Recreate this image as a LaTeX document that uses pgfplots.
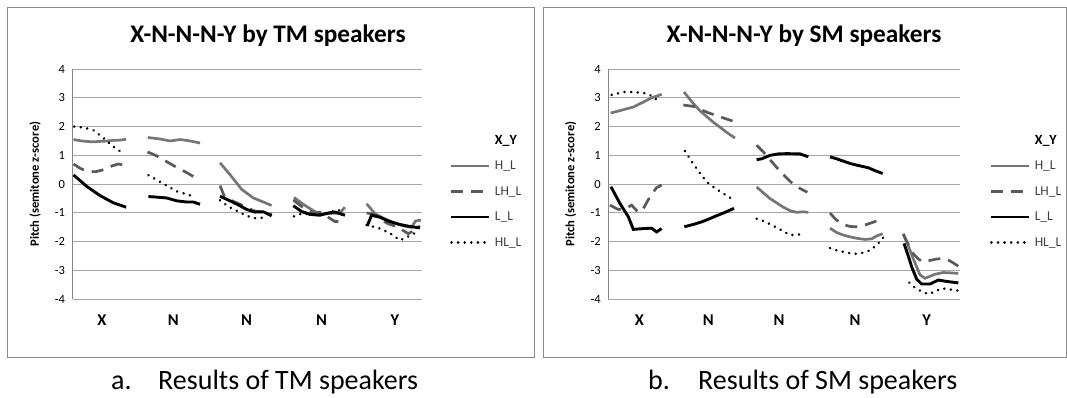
\documentclass[border=0pt]{standalone}
\usepackage{fontspec}
\setmainfont{Carlito}
\usepackage{pgfplots}
\pgfplotsset{compat=1.18}
\definecolor{gridc}{RGB}{166,166,166}
\definecolor{axc}{RGB}{134,134,134}
\definecolor{framec}{RGB}{140,140,140}
\definecolor{hlc}{RGB}{118,118,118}
\definecolor{lhlc}{RGB}{90,90,90}
\definecolor{txt}{RGB}{64,64,64}
\pgfplotsset{
 pitchax/.style={
  scale only axis, height=230.3pt,
  ymin=-4, ymax=4, ytick={-4,...,4},
  ymajorgrids, grid style={gridc, line width=1pt},
  axis x line*=bottom, axis y line*=left,
  axis line style={-, line width=1pt, axc},
  x axis line style={gridc},
  major tick length=0pt,
  xtick style={draw=none}, ytick style={draw=none},
  xticklabels={X,N,N,N,Y},
  x tick label style={font=\fontsize{16.5}{18}\selectfont\bfseries, anchor=center, yshift=-20.7pt},
  y tick label style={font=\fontsize{12.5}{14}\selectfont, xshift=-4pt},
  /pgf/number format/assume math mode=true,
  ylabel={Pitch (semitone z-score)},
  ylabel style={font=\fontsize{12.6}{14}\selectfont\bfseries, at={(axis description cs:-0.107,0.5)}, anchor=center},
  unbounded coords=jump,
  legend cell align=left,
  legend style={draw=none, fill=none, anchor=north west, font=\fontsize{13.5}{15}\selectfont, text=txt,
     inner sep=0pt, outer sep=0pt, row sep=0pt, column sep=4pt, nodes={inner sep=0pt, minimum height=25.5pt}},
  legend image code/.code={\draw[#1] (0pt,0pt) -- (38pt,0pt);},
 },
 hls/.style={hlc, line width=2.7pt},
 lhls/.style={lhlc, line width=2.7pt, dash pattern=on 12pt off 8pt},
 lls/.style={black, line width=2.9pt},
 hlls/.style={black, line width=2.7pt, line cap=round, dash pattern=on 0.1pt off 6.5pt},
}
\begin{document}
\begin{tikzpicture}
\useasboundingbox (0,0) rectangle (1067pt,397pt);
\draw[framec, line width=0.9pt] (7pt,40pt) rectangle (534pt,389.3pt);
\draw[framec, line width=0.9pt] (543.3pt,40pt) rectangle (1066.5pt,389.3pt);
\node[anchor=base, font=\fontsize{25.3}{28}\selectfont\bfseries, inner sep=0pt] at (268pt,354pt) {X-N-N-N-Y by TM speakers};
\node[anchor=base, font=\fontsize{25.3}{28}\selectfont\bfseries, inner sep=0pt] at (804pt,354pt) {X-N-N-N-Y by SM speakers};
\node[anchor=base west, font=\fontsize{28}{32}\selectfont, inner sep=0pt] at (111pt,7.5pt) {a.};
\node[anchor=base west, font=\fontsize{28}{32}\selectfont, inner sep=0pt] at (158pt,7.5pt) {Results of TM speakers};
\node[anchor=base west, font=\fontsize{28}{32}\selectfont, inner sep=0pt] at (648pt,7.5pt) {b.};
\node[anchor=base west, font=\fontsize{28}{32}\selectfont, inner sep=0pt] at (698pt,7.5pt) {Results of SM speakers};

\begin{axis}[pitchax, width=349pt, at={(72.5pt,97.7pt)}, anchor=south west,
  xmin=157, xmax=1205, xtick={245,460,680,905,1125},
  legend style={at={(axis description cs:1.0817,0.745)}}]
\addlegendimage{empty legend}
\addlegendentry{\textcolor{black}{\fontsize{14}{16}\selectfont\bfseries X\_Y}}
\addplot[hls] coordinates {(160,1.55) (185,1.5) (215,1.47) (250,1.49) (280,1.52) (300,1.53) (318,1.56) (350,nan)
(383,1.62) (420,1.57) (450,1.5) (480,1.55) (510,1.5) (540,1.43) (570,nan)
(600,0.74) (630,0.33) (665,-0.18) (700,-0.48) (730,-0.62) (755,-0.74) (790,nan)
(822,-0.46) (850,-0.7) (880,-0.92) (900,-1.05) (930,-1.02) (960,-1.0) (975,-0.8) (1000,nan)
(1040,-0.68) (1065,-1.02) (1090,-1.18) (1120,-1.33) (1150,-1.45) (1175,-1.5) (1187,-1.28) (1203,-1.25)};
\addlegendentry{H\_L}
\addplot[lhls] coordinates {(160,0.7) (180,0.55) (200,0.45) (225,0.43) (250,0.5) (275,0.63) (295,0.7) (318,0.65) (350,nan)
(382,1.12) (410,0.98) (440,0.78) (470,0.58) (500,0.4) (530,0.2) (570,nan)
(600,-0.05) (612,-0.4) (640,-0.6) (670,-0.75) (700,-0.92) (730,-0.98) (755,-1.05) (790,nan)
(820,-0.55) (850,-0.82) (880,-1.0) (905,-0.98) (925,-1.15) (945,-1.3) (970,-1.3) (1000,nan)
(1040,-1.0) (1065,-1.05) (1100,-1.35) (1135,-1.5) (1165,-1.72) (1185,-1.6) (1200,-1.45)};
\addlegendentry{LH\_L}
\addplot[lls] coordinates {(160,0.32) (180,0.12) (200,-0.08) (240,-0.4) (280,-0.65) (318,-0.8) (350,nan)
(385,-0.43) (410,-0.45) (440,-0.48) (470,-0.58) (500,-0.62) (520,-0.62) (540,-0.7) (570,nan)
(600,-0.42) (630,-0.58) (655,-0.72) (680,-0.88) (705,-0.97) (730,-0.96) (755,-1.1) (790,nan)
(820,-0.75) (845,-0.95) (870,-1.05) (900,-1.08) (925,-1.0) (945,-0.97) (975,-1.08) (1000,nan)
(1042,-1.45) (1055,-1.08) (1080,-1.15) (1110,-1.3) (1140,-1.4) (1170,-1.47) (1200,-1.52)};
\addlegendentry{L\_L}
\addplot[hlls] coordinates {(162,2.0) (190,1.97) (220,1.87) (250,1.6) (280,1.3) (312,1.05) (350,nan)
(385,0.31) (410,0.15) (435,-0.02) (470,-0.25) (500,-0.35) (525,-0.45) (570,nan)
(600,-0.56) (625,-0.78) (655,-0.95) (680,-1.1) (705,-1.18) (725,-1.17) (740,-1.08) (790,nan)
(822,-1.12) (845,-1.02) (875,-1.05) (905,-1.05) (930,-0.98) (950,-0.9) (965,-0.92) (1000,nan)
(1040,-1.42) (1075,-1.52) (1110,-1.7) (1140,-1.95) (1160,-1.85) (1185,-1.7)};
\addlegendentry{HL\_L}
\end{axis}

\begin{axis}[pitchax, width=351.7pt, at={(608.3pt,97.7pt)}, anchor=south west,
  xmin=145, xmax=1200, xtick={238,445,657,885,1100},
  legend style={at={(axis description cs:1.085,0.745)}}]
\addlegendimage{empty legend}
\addlegendentry{\textcolor{black}{\fontsize{14}{16}\selectfont\bfseries X\_Y}}
\addplot[hls] coordinates {(152,2.47) (185,2.57) (220,2.68) (250,2.85) (275,3.0) (305,3.12) (340,nan)
(372,3.2) (400,2.8) (420,2.55) (440,2.35) (460,2.15) (480,1.98) (500,1.8) (525,1.6) (560,nan)
(590,-0.1) (610,-0.3) (630,-0.5) (650,-0.65) (670,-0.8) (690,-0.92) (710,-0.98) (730,-0.96) (745,-0.98) (780,nan)
(810,-1.53) (830,-1.68) (850,-1.77) (870,-1.83) (890,-1.88) (915,-1.92) (935,-1.9) (950,-1.8) (968,-1.72) (1000,nan)
(1030,-1.72) (1045,-2.15) (1060,-2.6) (1080,-3.15) (1095,-3.27) (1110,-3.2) (1125,-3.13) (1150,-3.07) (1170,-3.08) (1195,-3.1)};
\addlegendentry{H\_L}
\addplot[lhls] coordinates {(150,-0.73) (175,-0.88) (195,-0.85) (215,-0.73) (235,-0.98) (250,-0.85) (262,-0.6) (275,-0.35) (290,-0.12) (305,-0.03) (340,nan)
(370,2.75) (400,2.7) (420,2.6) (445,2.48) (470,2.38) (495,2.28) (522,2.18) (560,nan)
(590,1.35) (610,1.12) (630,0.85) (650,0.58) (670,0.33) (690,0.1) (705,-0.05) (725,-0.18) (742,-0.28) (780,nan)
(810,-1.0) (825,-1.2) (845,-1.38) (870,-1.47) (890,-1.48) (920,-1.4) (945,-1.3) (965,-1.22) (1000,nan)
(1030,-1.75) (1045,-2.1) (1060,-2.42) (1075,-2.6) (1090,-2.7) (1110,-2.65) (1130,-2.6) (1155,-2.58) (1175,-2.7) (1195,-2.85)};
\addlegendentry{LH\_L}
\addplot[lls] coordinates {(153,-0.09) (165,-0.35) (180,-0.67) (195,-0.95) (205,-1.13) (220,-1.57) (255,-1.54) (275,-1.53) (290,-1.66) (305,-1.54) (340,nan)
(373,-1.48) (400,-1.4) (425,-1.31) (445,-1.22) (465,-1.12) (495,-0.98) (522,-0.84) (560,nan)
(590,0.85) (605,0.88) (630,1.0) (655,1.05) (680,1.06) (720,1.05) (745,0.95) (780,nan)
(810,0.95) (830,0.88) (850,0.8) (870,0.72) (890,0.66) (925,0.57) (945,0.47) (968,0.37) (1000,nan)
(1032,-2.06) (1045,-2.5) (1055,-2.87) (1070,-3.3) (1085,-3.47) (1110,-3.47) (1135,-3.33) (1160,-3.38) (1195,-3.43)};
\addlegendentry{L\_L}
\addplot[hlls] coordinates {(155,3.1) (190,3.2) (220,3.2) (250,3.17) (270,3.09) (285,3.0) (297,2.78) (340,nan)
(375,1.15) (400,0.7) (420,0.38) (440,0.08) (460,-0.1) (480,-0.25) (500,-0.4) (522,-0.55) (560,nan)
(590,-1.2) (615,-1.3) (640,-1.45) (665,-1.6) (690,-1.77) (715,-1.75) (735,-1.75) (780,nan)
(810,-2.22) (830,-2.3) (850,-2.35) (870,-2.4) (890,-2.42) (910,-2.38) (930,-2.3) (950,-2.12) (970,-1.85) (1000,nan)
(1048,-3.42) (1065,-3.6) (1085,-3.73) (1105,-3.82) (1125,-3.73) (1145,-3.62) (1165,-3.65) (1195,-3.7)};
\addlegendentry{HL\_L}
\end{axis}
\end{tikzpicture}
\end{document}
